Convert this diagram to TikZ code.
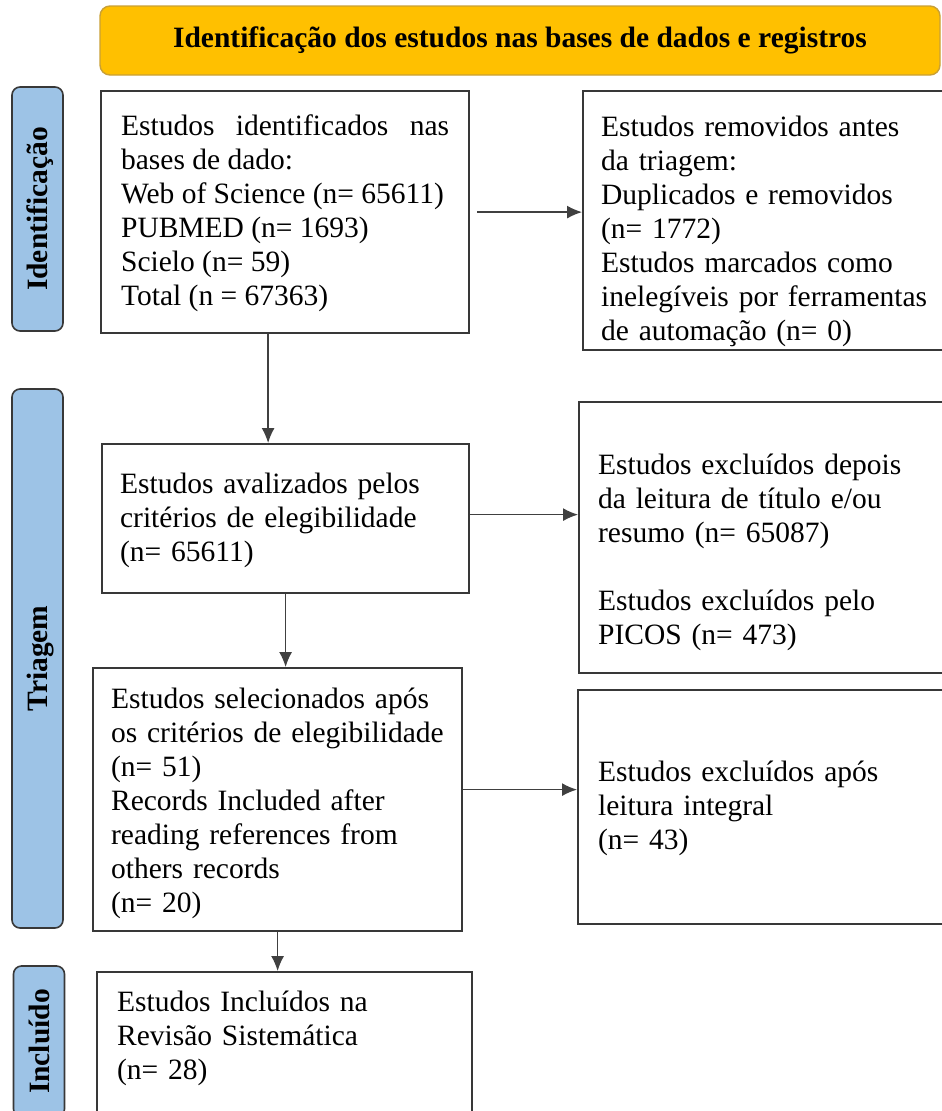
\documentclass[tikz,border=0pt]{standalone}
\usepackage{fontspec}
\setmainfont{Liberation Serif}
\usepackage{tikz}
\usetikzlibrary{%
  arrows.meta,%
  calc%
}
\definecolor{headgold}{HTML}{FFC000}
\definecolor{headrim}{HTML}{C9A035}
\definecolor{phaseblue}{HTML}{9DC3E6}
\definecolor{rimgray}{HTML}{383838}

\begin{document}
\begin{tikzpicture}[x=1pt,y=-1pt,
  font=\fontsize{29.5pt}{34pt}\selectfont,
  box/.style={draw=rimgray,line width=2.2pt,anchor=north west,
    inner xsep=18pt,inner ysep=0pt,align=left},
  phase/.style={draw=rimgray,line width=1.6pt,fill=phaseblue,
    rounded corners=8pt,rotate=90,inner sep=0pt,text depth=0pt,
    font=\fontsize{29.5pt}{34pt}\selectfont\bfseries},
  header/.style={draw=headrim,line width=1.4pt,fill=headgold,
    rounded corners=10pt,minimum width=840pt,minimum height=69pt,
    font=\fontsize{29.5pt}{34pt}\selectfont\bfseries},
  flow/.style={draw=black!75,line width=1.3pt,
    -{Latex[length=15pt,width=13pt]}}]
\useasboundingbox (0,0) rectangle (942,1111);
\clip (0,0) rectangle (942,1111);

% title bar
\node[header] (head) at (520,40.5)
  {Identificação dos estudos nas bases de dados e registros};

% phases
\node[phase,minimum width=244pt,minimum height=51pt] (ident) at (37.5,209)
  {Identificação};
\node[phase,minimum width=539pt,minimum height=51pt] (triag) at (37.5,658.5)
  {Triagem};
\node[phase,minimum width=151pt,minimum height=51pt] (incl) at (39,1041.5)
  {Incluído};

% left column
\node[box,inner xsep=20pt,text width=328pt,minimum height=242pt,
  align=justify] (b1) at (100,90)
  {\rule{0pt}{24pt}Estudos identificados nas bases de dado:\\
   Web of Science (n= 65611)\\
   PUBMED (n= 1693)\\
   Scielo (n= 59)\\
   Total (n = 67363)};
\node[box,text width=331pt,minimum height=149pt] (b2) at (101,443)
  {\rule{0pt}{24pt}Estudos avalizados pelos\\
   critérios de elegibilidade\\
   (n= 65611)};
\node[box,text width=333pt,minimum height=263pt] (b3) at (92,667)
  {\rule{0pt}{28.5pt}Estudos selecionados após\\
   os critérios de elegibilidade\\
   (n= 51)\\
   Records Included after\\
   reading references from\\
   others records\\
   (n= 20)};
\node[box,inner xsep=20pt,text width=335pt,minimum height=154pt] (b4) at (96,971)
  {Estudos Incluídos na\\
   Revisão Sistemática\\
   (n= 28)\rule[-27pt]{0pt}{1pt}};

% right column
\node[box,text width=364pt,minimum height=259pt] (r1) at (582,90)
  {\rule{0pt}{41.5pt}Estudos removidos antes\\
   da triagem:\\
   Duplicados e removidos\\
   (n= 1772)\\
   Estudos marcados como\\
   inelegíveis por ferramentas\\
   de automação (n= 0)};
\node[box,inner xsep=19pt,text width=362pt,minimum height=271pt] (r2) at (578,401)
  {\rule{0pt}{49.5pt}Estudos excluídos depois\\
   da leitura de título e/ou\\
   resumo (n= 65087)\\[34pt]
   Estudos excluídos pelo\\
   PICOS (n= 473)};
\node[box,inner xsep=20pt,text width=360pt,minimum height=234pt] (r3) at (577,689)
  {\rule{0pt}{24pt}Estudos excluídos após\\
   leitura integral\\
   (n= 43)};

\path (b1.east) ++(7,0) edge[flow] (b1.east -| r1.west)
      ([xshift=-17pt]b1.south) edge[flow] ([xshift=-17pt]b1.south |- b2.north)
      ([yshift=4pt]b2.east) edge[flow] ([yshift=4pt]b2.east -| r2.west)
      (b2.south) edge[flow] (b2.south |- b3.north)
      ([yshift=10pt]b3.east) edge[flow] ([yshift=10pt]b3.east -| r3.west)
      (b3.south) edge[flow] (b3.south |- b4.north)
;
\end{tikzpicture}
\end{document}
